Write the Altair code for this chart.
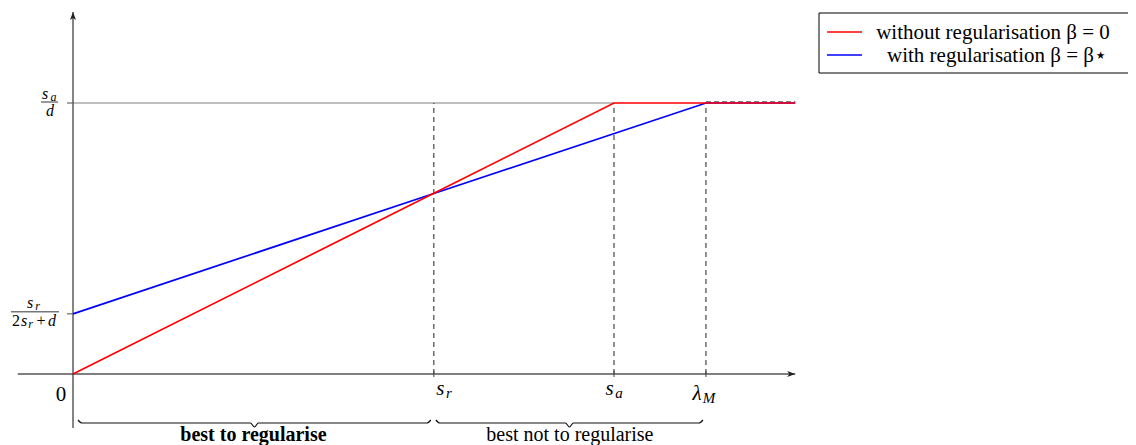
import altair as alt
import pandas as pd

# ---------------- values ----------------
# horizontal axis in units of s_a, vertical axis in units of s_a/d
series_names = ["without regularisation β = 0", "with regularisation β = β⋆"]
series_colors = ["#ff0000", "#0000ff"]

red_lambda = [0.0, 0.667, 1.0, 1.335]
red_value = [0.0, 0.667, 1.0, 1.0]
blue_lambda = [0.0, 0.667, 1.17, 1.335]
blue_value = [0.222, 0.666, 1.0, 1.0]

marker_lambda = [0.667, 1.0, 1.17]          # s_r, s_a, lambda_M
level_values = [1.0, 0.222]                 # s_a/d, s_r/(2 s_r + d)

axis_x_range = [-0.102, 1.335]
axis_y_range = [-0.199, 1.336]

brace_labels = ["best to regularise", "best not to regularise"]
brace_start = [0.0, 0.667]
brace_end = [0.667, 1.17]
brace_weights = ["bold", "normal"]

# ---------------- layout ----------------
W, H = 1120, 437
X_DOMAIN = [-0.12015, 1.9501]
Y_DOMAIN = [-0.262, 1.3506]
PX_X = (X_DOMAIN[1] - X_DOMAIN[0]) / W     # data units per pixel
PX_Y = (Y_DOMAIN[1] - Y_DOMAIN[0]) / H
FONT = "Liberation Serif"

xs = alt.Scale(domain=X_DOMAIN, nice=False, zero=False)
ys = alt.Scale(domain=Y_DOMAIN, nice=False, zero=False)


def X(f="x"):
    return alt.X(f"{f}:Q", scale=xs, axis=None)


def Y(f="y"):
    return alt.Y(f"{f}:Q", scale=ys, axis=None)


layers = []

# helper horizontal line at s_a/d (solid up to s_a, dashed after lambda_M)
helper = pd.DataFrame({"x": [0.0], "x2": [marker_lambda[1]], "y": [level_values[0]]})
layers.append(alt.Chart(helper).mark_rule(color="#808080", strokeWidth=1.2)
              .encode(x=X(), x2="x2:Q", y=Y()))

# dashed verticals
vert = pd.DataFrame({"x": marker_lambda, "y": [0.0] * 3, "y2": [level_values[0]] * 3})
layers.append(alt.Chart(vert).mark_rule(color="#222222", strokeWidth=1, strokeDash=[5, 4])
              .encode(x=X(), y=Y(), y2="y2:Q"))

# axes
xaxis = pd.DataFrame({"x": [axis_x_range[0]], "x2": [axis_x_range[1]], "y": [0.0]})
yaxis = pd.DataFrame({"x": [0.0], "y": [axis_y_range[0]], "y2": [axis_y_range[1]]})
layers.append(alt.Chart(xaxis).mark_rule(color="#555555", strokeWidth=1.3)
              .encode(x=X(), x2="x2:Q", y=Y()))
layers.append(alt.Chart(yaxis).mark_rule(color="#333333", strokeWidth=1.2)
              .encode(x=X(), y=Y(), y2="y2:Q"))

# ticks
xt = pd.DataFrame({"x": marker_lambda, "y": [0.0] * 3})
layers.append(alt.Chart(xt).mark_rule(color="#444444", strokeWidth=1, yOffset=-3, y2Offset=3)
              .encode(x=X(), y=Y(), y2="y:Q"))
yt = pd.DataFrame({"x": [0.0] * 2, "y": level_values})
layers.append(alt.Chart(yt).mark_rule(color="#666666", strokeWidth=1.2, xOffset=-6, x2Offset=0)
              .encode(x=X(), x2="x:Q", y=Y()))

# series (blue under red)
blue_df = pd.DataFrame({"x": blue_lambda, "y": blue_value, "s": series_names[1]})
red_df = pd.DataFrame({"x": red_lambda, "y": red_value, "s": series_names[0]})
cscale = alt.Scale(domain=series_names, range=series_colors)
for df in (blue_df, red_df):
    layers.append(alt.Chart(df).mark_line(strokeWidth=1.7)
                  .encode(x=X(), y=Y(), color=alt.Color("s:N", scale=cscale, legend=None)))

# dashed continuation above the plateau
cont = pd.DataFrame({"x": [marker_lambda[2]], "x2": [axis_x_range[1]], "y": [level_values[0]]})
layers.append(alt.Chart(cont).mark_rule(color="#808080", strokeWidth=1.2, strokeDash=[5, 3], yOffset=-1.5)
              .encode(x=X(), x2="x2:Q", y=Y()))

# arrow heads
ar = pd.DataFrame({"x": [axis_x_range[1]], "y": [0.0]})
layers.append(alt.Chart(ar).mark_point(shape="M1,0L-1,-0.75L-0.5,0L-1,0.75Z", size=64, filled=True,
                                       opacity=1, color="#222222", xOffset=-4)
              .encode(x=X(), y=Y()))
au = pd.DataFrame({"x": [0.0], "y": [axis_y_range[1]]})
layers.append(alt.Chart(au).mark_point(shape="M0,-1L-0.75,1L0,0.5L0.75,1Z", size=64, filled=True,
                                       opacity=1, color="#222222", yOffset=4)
              .encode(x=X(), y=Y()))


def txt(x, y, t, dx, dy, size, style="italic", weight="normal", align="center"):
    df = pd.DataFrame({"x": [x], "y": [y], "t": [t]})
    return (alt.Chart(df).mark_text(dx=dx, dy=dy, fontSize=size, font=FONT, fontStyle=style,
                                    fontWeight=weight, align=align, baseline="alphabetic", color="black")
            .encode(x=X(), y=Y(), text="t:N"))


# x-axis labels
layers.append(txt(0.0, 0.0, "0", -12, 27, 21, style="normal"))
layers.append(txt(marker_lambda[0], 0.0, "s", 6.5, 21, 21))
layers.append(txt(marker_lambda[0], 0.0, "r", 15, 24, 15))
layers.append(txt(marker_lambda[1], 0.0, "s", -4.5, 21, 21))
layers.append(txt(marker_lambda[1], 0.0, "a", 5, 24, 15))
layers.append(txt(marker_lambda[2], 0.0, "λ", -9, 26, 21))
layers.append(txt(marker_lambda[2], 0.0, "M", 3, 29, 15))

# y-axis fraction labels
layers.append(txt(0.0, level_values[0], "s", -28, -4, 16))
layers.append(txt(0.0, level_values[0], "a", -19.5, -2.5, 12))
layers.append(txt(0.0, level_values[0], "d", -23, 13, 16))
fl = pd.DataFrame({"x": [0.0], "y": [level_values[0]]})
layers.append(alt.Chart(fl).mark_rule(color="black", strokeWidth=0.8, xOffset=-32, x2Offset=-15, yOffset=-1)
              .encode(x=X(), x2="x:Q", y=Y()))

layers.append(txt(0.0, level_values[1], "s", -43, -6, 16))
layers.append(txt(0.0, level_values[1], "r", -35.5, -4, 12))
fl2 = pd.DataFrame({"x": [0.0], "y": [level_values[1]]})
layers.append(alt.Chart(fl2).mark_rule(color="black", strokeWidth=0.8, xOffset=-62, x2Offset=-14, yOffset=-2)
              .encode(x=X(), x2="x:Q", y=Y()))
layers.append(txt(0.0, level_values[1], "2", -57, 12, 16, style="normal"))
layers.append(txt(0.0, level_values[1], "s", -49, 12, 16))
layers.append(txt(0.0, level_values[1], "r", -42.5, 14, 12))
layers.append(txt(0.0, level_values[1], "+", -32, 12, 16, style="normal"))
layers.append(txt(0.0, level_values[1], "d", -21, 12, 16))

# braces below the axis
BR_LEVEL = -49 * PX_Y
BR_UP = 3 * PX_Y
BR_DOWN = 4 * PX_Y
rows = []
for i, (a, b) in enumerate(zip(brace_start, brace_end)):
    a2 = a + (5 if i == 0 else 2) * PX_X
    b2 = b - 3 * PX_X
    m = (a2 + b2) / 2
    e = 4 * PX_X
    pts = [(a2, BR_LEVEL + BR_UP), (a2 + e, BR_LEVEL), (m - e, BR_LEVEL), (m, BR_LEVEL - BR_DOWN),
           (m + e, BR_LEVEL), (b2 - e, BR_LEVEL), (b2, BR_LEVEL + BR_UP)]
    for k, (px, py) in enumerate(pts):
        rows.append({"x": px, "y": py, "b": brace_labels[i], "k": k})
brace_df = pd.DataFrame(rows)
layers.append(alt.Chart(brace_df).mark_line(color="#111111", strokeWidth=1.2, interpolate="monotone")
              .encode(x=X(), y=Y(), detail="b:N", order="k:Q"))
for i, lab in enumerate(brace_labels):
    mid = (brace_start[i] + brace_end[i]) / 2
    layers.append(txt(mid, BR_LEVEL, lab, 0, 18, 20, style="normal", weight=brace_weights[i]))

# legend box (drawn)
box = alt.Chart(pd.DataFrame({"a": [0]})).mark_rect(fill="white", stroke="black", strokeWidth=1).encode(
    x=alt.value(811), x2=alt.value(1123), y=alt.value(5), y2=alt.value(65))
layers.append(box)
for i, (name, col) in enumerate(zip(series_names, series_colors)):
    ry = 24 + 23 * i
    layers.append(alt.Chart(pd.DataFrame({"a": [0]})).mark_rule(color=col, strokeWidth=1.7).encode(
        x=alt.value(819), x2=alt.value(854), y=alt.value(ry)))
    layers.append(alt.Chart(pd.DataFrame({"t": [name]})).mark_text(
        font=FONT, fontSize=21, align="center", baseline="alphabetic", color="black").encode(
        x=alt.value(985 + 4 * i), y=alt.value(ry + 7), text="t:N"))

chart = alt.layer(*layers).properties(
    width=W, height=H, autosize=alt.AutoSizeParams(type="none"), padding=0,
    background="white").configure_view(stroke=None)

chart.save("out.html", embed_options={"renderer": "svg", "actions": False})
